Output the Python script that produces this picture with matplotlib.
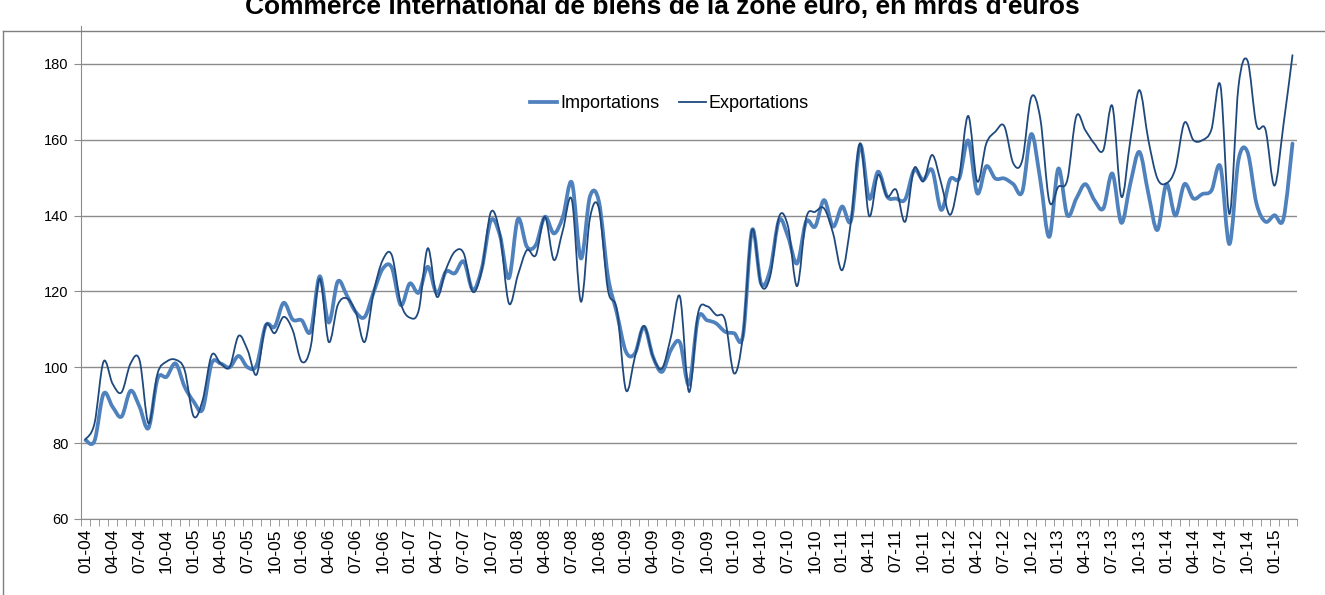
import matplotlib
matplotlib.use("Agg")
import matplotlib.pyplot as plt
from matplotlib.path import Path
from matplotlib.patches import PathPatch
from matplotlib.lines import Line2D
import numpy as np

plt.rcParams["font.family"] = ["Liberation Sans", "DejaVu Sans"]

# mois 01-04 .. 03-15
mois = [f"{m:02d}-{a:02d}" for a in range(4, 16) for m in range(1, 13)][:135]

importations = [
    80.8, 80.6, 93.0, 89.6, 87.0, 93.8, 89.6, 84.0, 97.0, 97.5, 101.0, 94.9,
    91.0, 88.9, 101.0, 101.0, 100.0, 103.0, 100.0, 100.6, 111.0, 110.7, 117.0, 112.6,
    112.4, 109.5, 124.0, 111.8, 122.6, 119.0, 114.6, 113.3, 119.9, 126.0, 126.3, 116.4,
    122.1, 119.7, 126.5, 119.5, 125.2, 124.8, 127.9, 120.4, 126.1, 138.7, 134.9, 123.5,
    139.1, 131.8, 132.3, 139.7, 135.3, 139.7, 148.7, 128.7, 145.0, 143.7, 124.0, 114.2,
    104.1, 103.7, 110.7, 102.8, 98.8, 104.6, 106.5, 95.5, 112.9, 112.4, 111.6, 109.4,
    109.0, 108.5, 136.2, 122.1, 125.6, 138.8, 134.4, 127.4, 138.4, 137.1, 144.1, 137.1,
    142.4, 138.8, 158.6, 144.5, 151.6, 145.0, 144.5, 144.3, 152.0, 149.4, 152.0, 141.5,
    149.6, 149.8, 159.8, 145.9, 153.0, 149.8, 149.8, 148.3, 146.3, 161.5, 149.4, 134.4,
    152.4, 140.1, 144.5, 148.3, 144.1, 141.9, 151.1, 138.1, 148.5, 156.8, 145.8, 136.2,
    148.3, 140.0, 148.3, 144.5, 145.7, 146.6, 152.9, 132.5, 154.6, 156.8, 143.2, 138.4,
    140.1, 139.2, 159.0,
]

exportations = [
    81.0, 85.2, 101.5, 95.7, 93.4, 101.0, 101.9, 85.2, 98.4, 101.5, 102.0, 99.3,
    87.1, 91.3, 103.2, 101.0, 100.1, 108.3, 104.5, 98.1, 111.1, 109.0, 113.3, 109.8,
    101.5, 105.4, 123.4, 106.7, 116.4, 118.2, 114.6, 106.7, 119.9, 128.3, 129.6, 116.9,
    113.1, 115.1, 131.4, 118.6, 125.7, 130.5, 130.0, 119.9, 125.7, 140.9, 135.3, 116.9,
    124.3, 130.9, 129.6, 139.7, 128.3, 136.2, 144.1, 117.3, 139.3, 141.9, 120.4, 115.1,
    94.0, 102.8, 110.9, 102.8, 99.7, 108.1, 118.6, 93.5, 114.2, 116.1, 113.8, 112.5,
    98.4, 108.5, 136.2, 121.7, 123.9, 139.7, 137.1, 121.4, 139.3, 141.0, 141.9, 135.3,
    125.6, 138.8, 159.1, 139.9, 150.7, 145.0, 146.8, 138.4, 152.5, 149.0, 156.0, 148.5,
    140.2, 150.3, 166.3, 149.0, 159.0, 162.1, 163.6, 153.8, 154.6, 171.2, 165.6, 143.8,
    147.6, 149.4, 166.2, 162.5, 159.0, 157.3, 168.9, 145.0, 159.9, 173.1, 159.9, 149.8,
    148.5, 152.4, 164.5, 159.9, 159.9, 162.7, 174.3, 140.4, 174.0, 180.9, 163.9, 162.7,
    147.9, 164.0, 182.3,
]

couleur_imp = "#4F81BD"
couleur_exp = "#1F497D"
gris = "#8C8C8C"


def courbe_lissee(valeurs):
    # courbe lissee facon Excel (Bezier a partir des points)
    pts = np.column_stack([np.arange(len(valeurs)), valeurs]).astype(float)
    n = len(pts)
    verts = [pts[0]]
    codes = [Path.MOVETO]
    for k in range(n - 1):
        p0 = pts[max(k - 1, 0)]
        p1 = pts[k]
        p2 = pts[k + 1]
        p3 = pts[min(k + 2, n - 1)]
        verts += [p1 + (p2 - p0) / 6, p2 - (p3 - p1) / 6, p2]
        codes += [Path.CURVE4] * 3
    return Path(verts, codes)


fig = plt.figure(figsize=(13.25, 5.95), dpi=100)
ax = fig.add_axes([81 / 1325, 76 / 595, 1216 / 1325, 493 / 595])

ax.add_patch(PathPatch(courbe_lissee(importations), fill=False, edgecolor=couleur_imp,
                       lw=2.7, capstyle="round", joinstyle="round", zorder=3))
ax.add_patch(PathPatch(courbe_lissee(exportations), fill=False, edgecolor=couleur_exp,
                       lw=1.3, capstyle="round", joinstyle="round", zorder=4))

ax.set_xlim(-0.5, len(mois) - 0.5)
ax.set_ylim(60, 190)
ax.set_yticks(range(60, 181, 20))
ax.yaxis.grid(True, color=gris, lw=1)
ax.set_axisbelow(True)

ax.set_xticks(range(0, len(mois), 3))
ax.set_xticklabels(mois[::3], rotation=90, fontsize=12.5)
ax.set_xticks(np.arange(-0.5, len(mois), 1), minor=True)
ax.tick_params(axis="x", which="major", length=0, pad=7)
ax.tick_params(axis="x", which="minor", length=5, color=gris, direction="out")
ax.tick_params(axis="y", length=5, color=gris, labelsize=10.5, pad=4)

for s in ["top", "right"]:
    ax.spines[s].set_visible(False)
for s in ["left", "bottom"]:
    ax.spines[s].set_color(gris)

poignees = [Line2D([], [], color=couleur_imp, lw=2.7),
            Line2D([], [], color=couleur_exp, lw=1.3)]
ax.legend(poignees, ["Importations", "Exportations"], loc="center",
          bbox_to_anchor=(0.484, 0.842), ncol=2, frameon=False, fontsize=13,
          handlelength=1.5, handletextpad=0.15, columnspacing=1.1)

fig.text(0.5, 1 - 14 / 595, "Commerce international de biens de la zone euro, en mrds d'euros",
         ha="center", va="baseline", fontsize=19, fontweight="bold")

# cadre du graphique
fig.add_artist(Line2D([3 / 1325, 1], [1 - 31 / 595, 1 - 31 / 595], color="#7F7F7F", lw=1))
fig.add_artist(Line2D([3 / 1325, 3 / 1325], [0, 1 - 31 / 595], color="#7F7F7F", lw=1))

plt.savefig("out.png", dpi=100)
plt.close()
